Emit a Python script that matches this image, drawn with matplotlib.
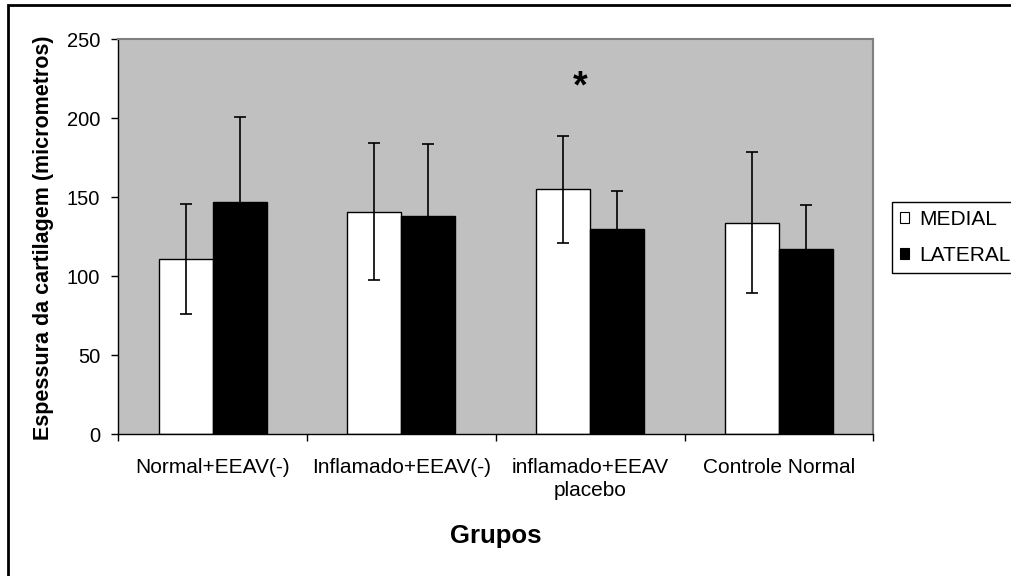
import numpy as np
import matplotlib.pyplot as plt
from matplotlib.patches import Rectangle

plt.rcParams['font.family'] = ['Liberation Sans', 'DejaVu Sans']

groups = ['Normal+EEAV(-)', 'Inflamado+EEAV(-)', 'inflamado+EEAV\nplacebo', 'Controle Normal']
medial = [111, 141, 155, 134]
medial_err = [35, 43.5, 34, 44.5]
lateral = [147, 138, 130, 117]
lateral_err = [54, 46, 24, 28]
yticks = [0, 50, 100, 150, 200, 250]

x = np.arange(len(groups))
width = 1 / 3.5  # Excel-style gap width of 150%

W, H = 1011, 576
fig = plt.figure(figsize=(W / 100, H / 100), dpi=100)
ax = fig.add_axes([118.3 / W, 1 - 434.3 / H, 755 / W, 395 / H])
ax.set_facecolor('#c0c0c0')

err_kw = dict(ecolor='black', elinewidth=1.2, capsize=4, capthick=1.2)
ax.bar(x - width / 2, medial, width, yerr=medial_err, color='white',
       edgecolor='black', linewidth=1.0, error_kw=err_kw, label='MEDIAL', zorder=2)
ax.bar(x + width / 2, lateral, width, yerr=lateral_err, color='black',
       edgecolor='black', linewidth=1.0, error_kw=err_kw, label='LATERAL', zorder=2)

# significance mark over the placebo group
ax.text(2 - 0.054, 219.5, '*', ha='center', va='center', fontsize=27,
        fontweight='bold', zorder=3)

ax.set_xlim(-0.5, 3.5)
ax.set_ylim(0, 250)
ax.set_yticks(yticks)
ax.tick_params(axis='y', direction='out', length=5, width=1, labelsize=14.5, pad=8)

# tick marks sit between the groups, labels at the group centres
ax.set_xticks(np.arange(-0.5, 4, 1))
ax.set_xticklabels([])
ax.tick_params(axis='x', which='major', direction='out', length=5, width=1)
ax.set_xticks(x, minor=True)
ax.set_xticklabels(groups, minor=True, fontsize=15, linespacing=1.3)
ax.tick_params(axis='x', which='minor', length=0, pad=17)

for side in ['left', 'bottom']:
    ax.spines[side].set_color('black')
    ax.spines[side].set_linewidth(1)
for side in ['top', 'right']:
    ax.spines[side].set_color('#808080')
    ax.spines[side].set_linewidth(1.5)

fig.text(44 / W, 1 - 238 / H, 'Espessura da cartilagem (micrometros)',
         rotation=90, ha='center', va='center', fontsize=15.5, fontweight='bold')
fig.text(495.8 / W, 1 - 536 / H, 'Grupos', ha='center', va='center',
         fontsize=18.5, fontweight='bold')

leg = fig.legend(loc='upper left', bbox_to_anchor=(891.7 / W, 1 - 201.7 / H),
                 bbox_transform=fig.transFigure, borderaxespad=0, fontsize=15,
                 handlelength=0.45, handleheight=0.45, handletextpad=0.45,
                 borderpad=0.4, labelspacing=0.8, fancybox=False,
                 edgecolor='black', framealpha=1)
leg.get_frame().set_linewidth(1)
for h in leg.legend_handles:
    h.set_edgecolor('black')
    h.set_linewidth(0.8)

# outer frame of the chart area
fig.patches.append(Rectangle((8 / W, -0.1), 1.2, 1.1 - 5 / H, transform=fig.transFigure,
                             fill=False, edgecolor='black', linewidth=2, clip_on=False))

fig.savefig('out.png', dpi=100)
